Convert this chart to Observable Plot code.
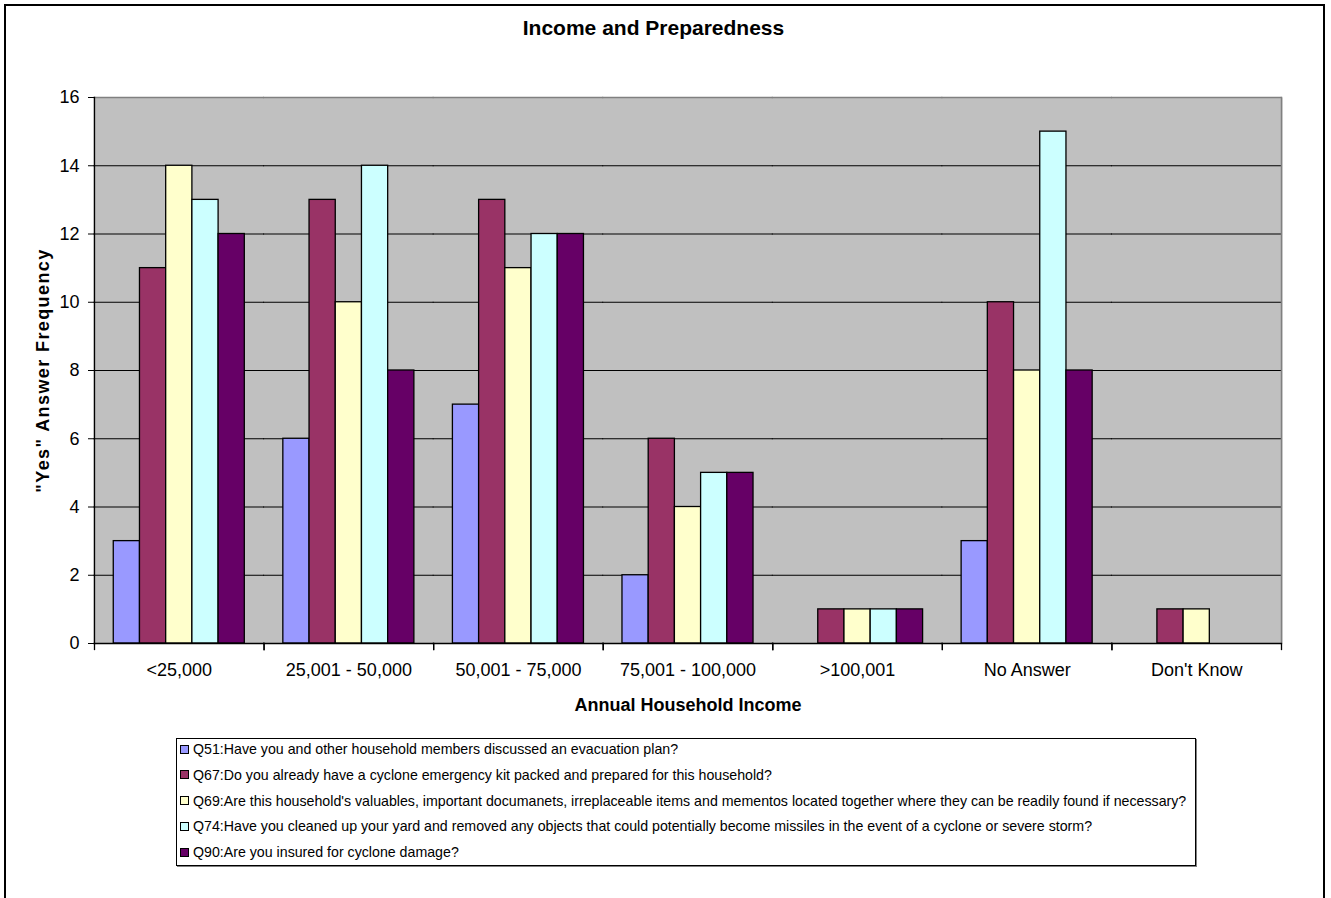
<!DOCTYPE html>
<html>
<head>
<meta charset="utf-8">
<script src="https://cdn.jsdelivr.net/npm/d3@7"></script>
<script src="https://cdn.jsdelivr.net/npm/@observablehq/plot@0.6"></script>
<style>
  html, body { margin: 0; padding: 0; background: #fff; }
  body { font-family: Arial, "Liberation Sans", sans-serif; color: #000; width: 1331px; height: 898px; overflow: hidden; position: relative; }
  #page { position: absolute; left: 4px; top: 4px; width: 1317px; height: 920px; border: 2px solid #000; }
  #title { position: absolute; left: 0; top: 17px; width: 1307px; text-align: center; font-weight: bold; font-size: 21px; line-height: 21px; }
  #chart { position: absolute; left: 0; top: 0; }
  #legend { position: absolute; left: 176px; top: 738px; width: 1018px; height: 126px; border: 1px solid #000; box-shadow: 1px 1px 0 #808080; background: #fff; }
  .row { display: flex; align-items: center; height: 20px; margin-bottom: 5.75px; font-size: 14.2px; white-space: nowrap; }
  .sw { width: 7px; height: 7px; border: 1px solid #000; margin-left: 3px; margin-right: 4px; flex: none; }
  g[aria-label="y-axis label"] text { letter-spacing: 1.4px; }
</style>
</head>
<body>
<div id="page"></div>
<div id="chart"></div>
<div id="title"></div>
<div id="legend"></div>
<script>
// ---- data ----
const categories = ["<25,000", "25,001 - 50,000", "50,001 - 75,000", "75,001 - 100,000", ">100,001", "No Answer", "Don't Know"];
const seriesKeys = ["Q51", "Q67", "Q69", "Q74", "Q90"];
const seriesLabels = [
  "Q51:Have you and other household members discussed an evacuation plan?",
  "Q67:Do you already have a cyclone emergency kit packed and prepared for this household?",
  "Q69:Are this household's valuables, important documanets, irreplaceable items and mementos located together where they can be readily found if necessary?",
  "Q74:Have you cleaned up your yard and removed any objects that could potentially become missiles in the event of a cyclone or severe storm?",
  "Q90:Are you insured for cyclone damage?"
];
const seriesColors = ["#9999FF", "#993366", "#FFFFCC", "#CCFFFF", "#660066"];
const q51 = [3, 6, 7, 2, 0, 3, 0];
const q67 = [11, 13, 13, 6, 1, 10, 1];
const q69 = [14, 10, 11, 4, 1, 8, 1];
const q74 = [13, 14, 12, 5, 1, 15, 0];
const q90 = [12, 8, 12, 5, 1, 8, 0];
const yTicks = [0, 2, 4, 6, 8, 10, 12, 14, 16];
const titleText = "Income and Preparedness";
const xLabel = "Annual Household Income";
const yLabel = "\"Yes\" Answer Frequency";

// ---- table ----
const seriesValues = [q51, q67, q69, q74, q90];
const rows = [];
categories.forEach((c, i) => {
  seriesKeys.forEach((s, j) => {
    const v = seriesValues[j][i];
    if (v > 0) rows.push({category: c, series: s, value: v});
  });
});

const W = 1331, H = 730, MT = 97, MB = 87, ML = 94, MR = 50;
const plotH = H - MT - MB;
const FONT = "Arial, 'Liberation Sans', sans-serif";

const chart = Plot.plot({
  width: W,
  height: H,
  marginLeft: ML,
  marginRight: MR,
  marginTop: MT,
  marginBottom: MB,
  style: {fontFamily: FONT, fontSize: "18px", color: "#000", background: "transparent", overflow: "visible"},
  fx: {domain: categories, paddingInner: 0, paddingOuter: 0, round: false},
  x: {domain: seriesKeys, paddingInner: 0, paddingOuter: 0.735, round: false, axis: null},
  y: {domain: [0, 16]},
  color: {domain: seriesKeys, range: seriesColors},
  marks: [
    Plot.frame({fill: "#C0C0C0", stroke: "none", insetLeft: -1, insetRight: -1}),
    Plot.ruleY(yTicks.filter(t => t > 0 && t < 16), {stroke: "#000", strokeWidth: 1, insetLeft: -0.5, insetRight: -0.5}),
    Plot.ruleY([16], {stroke: "#808080", strokeWidth: 1.5, insetLeft: -0.5, insetRight: -0.5}),
    Plot.frame({anchor: "right", stroke: "#808080", strokeWidth: 1.5, fx: categories[categories.length - 1]}),
    Plot.barY(rows, {fx: "category", x: "series", y: "value", fill: "series", stroke: "#000", strokeWidth: 1.3}),
    Plot.ruleY([0], {stroke: "#000", strokeWidth: 1.3, insetLeft: -0.5, insetRight: -0.5}),
    Plot.frame({anchor: "left", stroke: "#000", strokeWidth: 1.3, fx: categories[0]}),
    Plot.frame({anchor: "left", stroke: "#000", strokeWidth: 1.3, insetTop: plotH, insetBottom: -6}),
    Plot.frame({anchor: "right", stroke: "#000", strokeWidth: 1.3, insetTop: plotH, insetBottom: -6}),
    Plot.axisY({ticks: yTicks, tickSize: 6, tickPadding: 9, fontSize: 18, label: yLabel, labelAnchor: "center", labelOffset: 58, labelArrow: "none"}),
    Plot.axisFx({anchor: "bottom", tickSize: 0, tickPadding: 20, fontSize: 18, label: xLabel, labelAnchor: "center", labelOffset: 67, labelArrow: "none"})
  ]
});
document.getElementById("chart").appendChild(chart);

// style axis labels bold
chart.querySelectorAll('g[aria-label="y-axis label"] text, g[aria-label="fx-axis label"] text').forEach(t => {
  t.setAttribute("font-weight", "bold");
});

document.getElementById("title").textContent = titleText;

// ---- legend ----
const legend = document.getElementById("legend");
seriesLabels.forEach((lab, j) => {
  const row = document.createElement("div");
  row.className = "row";
  const sw = document.createElement("span");
  sw.className = "sw";
  sw.style.background = seriesColors[j];
  const tx = document.createElement("span");
  tx.textContent = lab;
  row.appendChild(sw);
  row.appendChild(tx);
  legend.appendChild(row);
});
</script>
</body>
</html>
